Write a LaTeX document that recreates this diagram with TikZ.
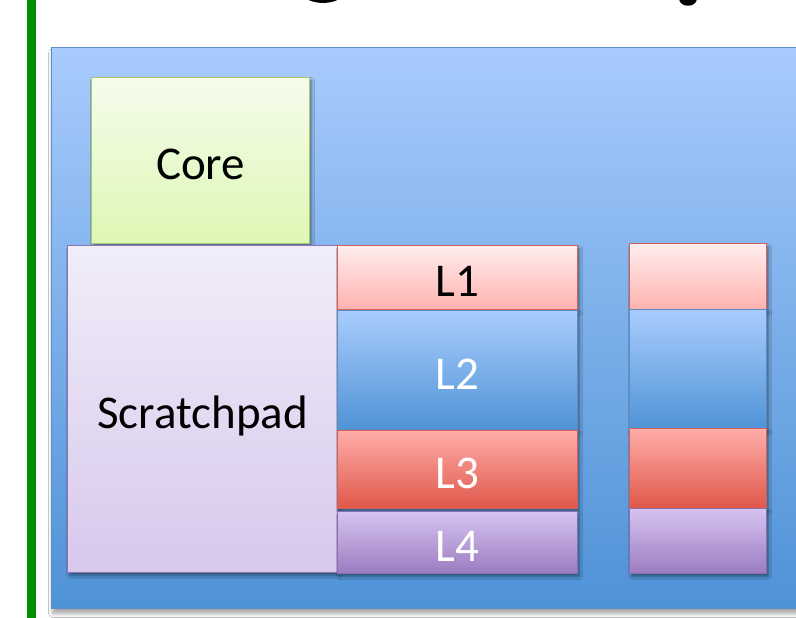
\documentclass[tikz,border=0pt]{standalone}
\usepackage{fontspec}
\setmainfont{Carlito}
\usetikzlibrary{shadows.blur}
\definecolor{barGreen}{HTML}{008E00}
\definecolor{panTop}{HTML}{A8CBFD}
\definecolor{panBot}{HTML}{4E92D6}
\definecolor{panLine}{HTML}{5A8DC9}
\definecolor{coreTop}{HTML}{F5FCEC}
\definecolor{coreBot}{HTML}{DEF7B4}
\definecolor{coreLine}{HTML}{A8C766}
\definecolor{spTop}{HTML}{F1EDF9}
\definecolor{spBot}{HTML}{D7C8EC}
\definecolor{spLine}{HTML}{8F74B2}
\definecolor{lOneTop}{HTML}{FFEDED}
\definecolor{lOneBot}{HTML}{FFB2AF}
\definecolor{redLine}{HTML}{D0625B}
\definecolor{lTwoTop}{HTML}{A9CCFD}
\definecolor{lTwoBot}{HTML}{4F93D6}
\definecolor{lTwoLine}{HTML}{5B8DC8}
\definecolor{lThreeTop}{HTML}{FFADA9}
\definecolor{lThreeBot}{HTML}{DF5749}
\definecolor{lFourTop}{HTML}{D6C3F1}
\definecolor{lFourBot}{HTML}{9B7CC0}
\definecolor{lFourLine}{HTML}{8A6FB0}
\begin{document}
\begin{tikzpicture}[x=1pt,y=-1pt,
  shad/.style={blur shadow={shadow xshift=2pt, shadow yshift=-3pt, shadow blur steps=6, shadow blur radius=3pt, shadow opacity=45}},
  box/.style={draw, line width=1.3pt, inner sep=0pt, anchor=north west, shad,
    font=\fontsize{47}{47}\selectfont, text height=38pt, text depth=0pt},
  corebox/.style={box, top color=coreTop, bottom color=coreBot, draw=coreLine},
  spbox/.style={box, top color=spTop, bottom color=spBot, draw=spLine},
  lone/.style={box, top color=lOneTop, bottom color=lOneBot, draw=redLine},
  ltwo/.style={box, top color=lTwoTop, bottom color=lTwoBot, draw=lTwoLine, text=white},
  lthree/.style={box, top color=lThreeTop, bottom color=lThreeBot, draw=redLine, text=white},
  lfour/.style={box, top color=lFourTop, bottom color=lFourBot, draw=lFourLine, text=white},
  panel/.style={draw=panLine, line width=1.3pt, top color=panTop, bottom color=panBot, anchor=north west, inner sep=0pt,
    blur shadow={shadow xshift=1pt, shadow yshift=-5pt, shadow blur steps=6, shadow blur radius=4pt, shadow opacity=35}}
]
\useasboundingbox (0,0) rectangle (796,618);
\begin{scope}
\clip (0,0) rectangle (796,618);
\fill[white] (0,0) rectangle (796,618);
% cut-off glyph ends of a title above the picture
\draw[line width=3.8pt] (304,-8) .. controls (306,4) and (340,4) .. (342,-8);
\fill (679,-1) .. controls (680,8) and (696,8) .. (697,-1) -- cycle;
% green bar
\fill[barGreen] (27,0) rectangle (36,618);
% panel
\node[panel, minimum width=780pt, minimum height=561pt] (panel) at (51,47) {};
% core and scratchpad
\node[corebox, minimum width=218pt, minimum height=166pt] (core) at (91,77) {Core};
\node[spbox, minimum width=270pt, minimum height=327pt] (sp) at (67,245) {Scratchpad};
% left column of levels
\node[lone, minimum width=240pt, minimum height=64pt] (l1) at (337,245) {L1};
\node[ltwo, minimum width=240pt, minimum height=119pt] (l2) at (337,310) {L2};
\node[lthree, minimum width=240pt, minimum height=78pt] (l3) at (337,430) {L3};
\node[lfour, minimum width=240pt, minimum height=62pt] (l4) at (337,511) {L4};
% right column of levels
\node[lone, minimum width=137pt, minimum height=66pt] (r1) at (629,243) {};
\node[ltwo, minimum width=137pt, minimum height=120pt] (r2) at (629,309) {};
\node[lthree, minimum width=137pt, minimum height=80pt] (r3) at (629,428) {};
\node[lfour, minimum width=137pt, minimum height=65pt] (r4) at (629,508) {};
\end{scope}
\end{tikzpicture}
\end{document}
